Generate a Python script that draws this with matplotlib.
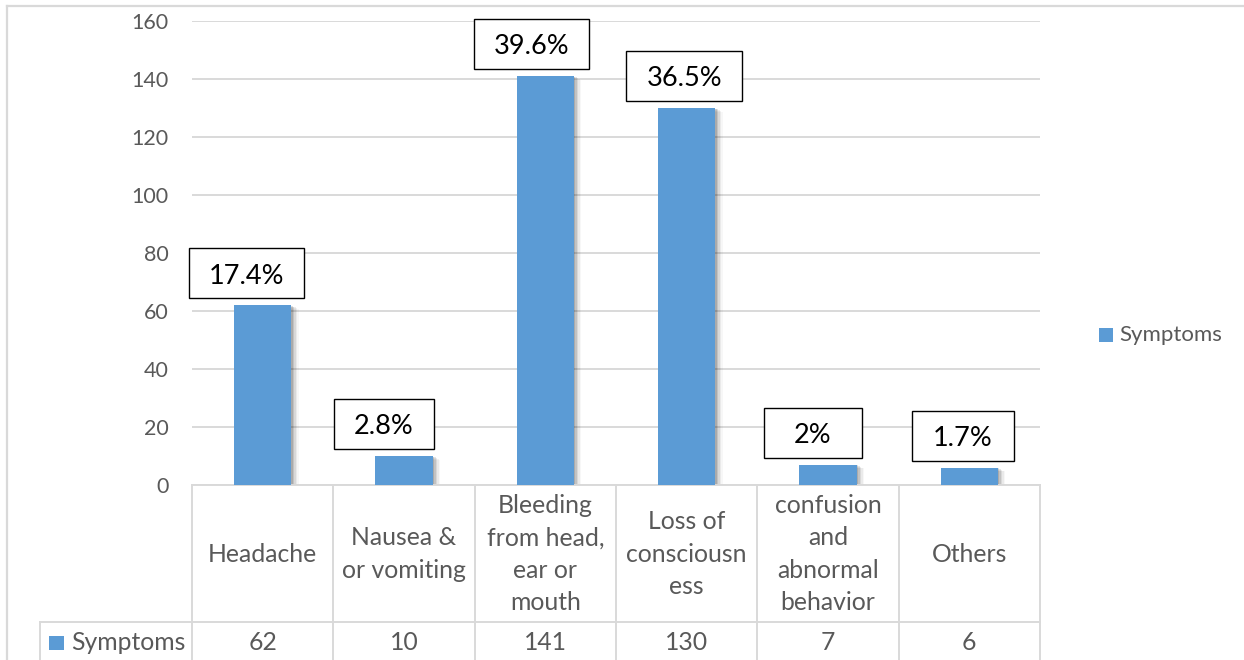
import matplotlib
matplotlib.use("Agg")
import matplotlib.pyplot as plt
import matplotlib.transforms as mtransforms
from matplotlib.patches import Rectangle
from matplotlib.lines import Line2D

# ---- data -------------------------------------------------------------
categories = [
    "Headache",
    "Nausea &\nor vomiting",
    "Bleeding\nfrom head,\near or\nmouth",
    "Loss of\nconsciousn\ness",
    "confusion\nand\nabnormal\nbehavior",
    "Others",
]
counts = [62, 10, 141, 130, 7, 6]
pct_labels = ["17.4%", "2.8%", "39.6%", "36.5%", "2%", "1.7%"]
series_name = "Symptoms"
y_ticks = [0, 20, 40, 60, 80, 100, 120, 140, 160]

# ---- style ------------------------------------------------------------
BLUE = "#5B9BD5"
GRID = "#D9D9D9"
TXT = "#595959"
plt.rcParams["font.family"] = ["Lato", "DejaVu Sans"]

W, H, DPI = 1244, 660, 100
fig = plt.figure(figsize=(W / DPI, H / DPI), dpi=DPI)
fig.patch.set_facecolor("white")


def fx(px):
    return px / W


def fy(py):  # py measured from the top edge
    return 1 - py / H


ax = fig.add_axes([fx(192), fy(485), fx(1040) - fx(192), fy(20.7) - fy(485)])
x = list(range(len(categories)))
bar_w = 0.405

ax.set_xlim(-0.5, len(categories) - 0.5)
ax.set_ylim(y_ticks[0], y_ticks[-1])
ax.set_yticks(y_ticks)
ax.set_xticks([])
ax.yaxis.grid(True, color=GRID, lw=1.4)
ax.set_axisbelow(True)
for s in ("left", "right", "top"):
    ax.spines[s].set_visible(False)
ax.spines["bottom"].set_color(GRID)
ax.spines["bottom"].set_linewidth(1.4)
ax.tick_params(axis="y", length=0, pad=17, labelsize=15.5, labelcolor=TXT)

# soft drop shadow behind the bars
for dx, a in [(1.5, 0.12), (3.0, 0.10), (4.5, 0.07), (6.0, 0.05), (7.5, 0.03)]:
    sb = ax.bar(x, counts, width=bar_w, color="black", alpha=a, lw=0, zorder=2)
    for p in sb:
        p.set_transform(ax.transData + mtransforms.Affine2D().translate(dx, -dx * 0.5))
ax.bar(x, counts, width=bar_w, color=BLUE, lw=0, zorder=3)

# boxed percentage labels above each bar
box_dx = [-16, -20, -13.5, -2.5, -15, -6.5]
box_w = [115, 100, 115, 116, 98, 102]
box_h = 50
box_rise = 32
for i, (v, lab) in enumerate(zip(counts, pct_labels)):
    tr = mtransforms.IdentityTransform() + mtransforms.ScaledTranslation(i, v, ax.transData)
    ax.add_patch(Rectangle((box_dx[i] - box_w[i] / 2, box_rise - box_h / 2), box_w[i], box_h,
                           transform=tr, facecolor="white", edgecolor="black", lw=1.0,
                           clip_on=False, zorder=5))
    ax.text(box_dx[i], box_rise - 3, lab, transform=tr, ha="center", va="center",
            fontsize=19.5, color="black", zorder=6, clip_on=False)

# ---- data table under the axis ----------------------------------------
tb = mtransforms.blended_transform_factory(ax.transData, fig.transFigure)
row_top, row_mid, row_bot = fy(485), fy(622), fy(700)
for i in range(len(categories) + 1):
    ax.add_line(Line2D([i - 0.5, i - 0.5], [row_top, row_bot], transform=tb,
                       color=GRID, lw=1.4, clip_on=False))
ax_right = ax.get_position().x1
fig.add_artist(Line2D([fx(40), ax_right], [row_mid, row_mid], color=GRID, lw=1.4))
fig.add_artist(Line2D([fx(40), fx(40)], [row_mid, row_bot], color=GRID, lw=1.4))

TABLE_FS = 17.8
for i, (cat, v) in enumerate(zip(categories, counts)):
    ax.text(i, fy(554), cat, transform=tb, ha="center", va="center", multialignment="center",
            fontsize=TABLE_FS, color=TXT, linespacing=1.5, clip_on=False)
    ax.text(i, fy(643), str(v), transform=tb, ha="center", va="center",
            fontsize=TABLE_FS, color=TXT, clip_on=False)

fig.add_artist(Rectangle((fx(49), fy(650)), fx(64) - fx(49), fy(636) - fy(650),
                         transform=fig.transFigure, facecolor=BLUE, lw=0))
fig.text(fx(71), fy(643), series_name, ha="left", va="center", fontsize=TABLE_FS, color=TXT)

# ---- legend on the right ----------------------------------------------
fig.add_artist(Rectangle((fx(1099), fy(342)), fx(1113) - fx(1099), fy(328) - fy(342),
                         transform=fig.transFigure, facecolor=BLUE, lw=0))
fig.text(fx(1119), fy(335), series_name, ha="left", va="center", fontsize=16, color=TXT)

# ---- chart-area border ------------------------------------------------
fig.add_artist(Line2D([fx(7), fx(1300)], [fy(5.5), fy(5.5)], color=GRID, lw=1.6))
fig.add_artist(Line2D([fx(7), fx(7)], [fy(5.5), fy(700)], color=GRID, lw=1.6))

fig.savefig("out.png", dpi=DPI, facecolor="white")
